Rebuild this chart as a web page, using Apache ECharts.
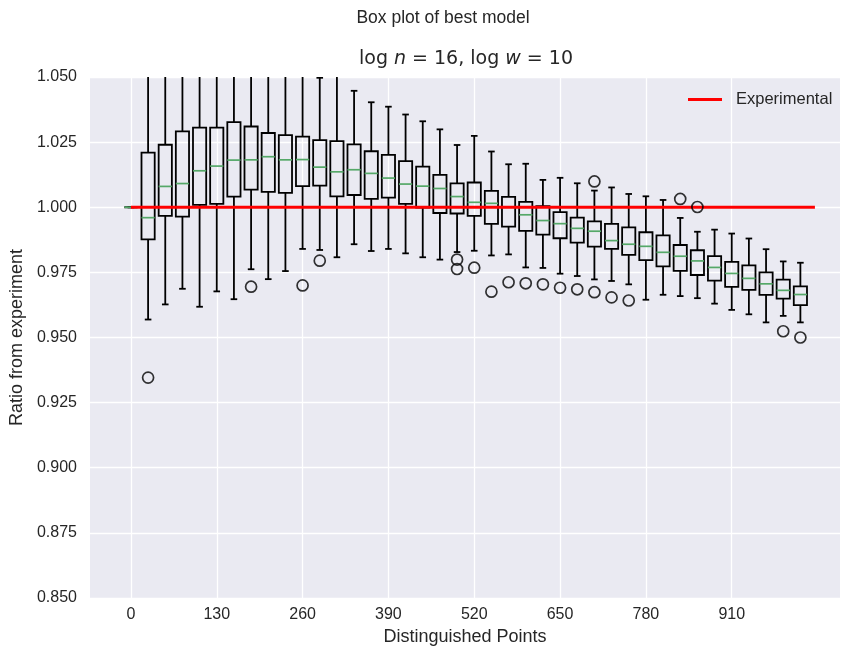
<!DOCTYPE html>
<html><head><meta charset="utf-8">
<script src="https://cdn.jsdelivr.net/npm/echarts@6/dist/echarts.min.js"></script>
<style>html,body{margin:0;padding:0;background:#fff}#c{width:842px;height:651px}</style>
</head><body><div id="c"></div>
<script>
// ---- data ----
const positions = [0,26,52,78,104,130,156,182,208,234,260,286,312,338,364,390,416,442,468,494,520,546,572,598,624,650,676,702,728,754,780,806,832,858,884,910,936,962,988,1014];
const whiskerLow = [1.000,0.9569,0.9627,0.9687,0.9618,0.9677,0.9647,0.9762,0.9724,0.9755,0.9840,0.9836,0.9808,0.9858,0.9832,0.9840,0.9823,0.9808,0.9799,0.9828,0.9833,0.9815,0.9819,0.9769,0.9767,0.9745,0.9736,0.9723,0.9717,0.9704,0.9645,0.9664,0.9659,0.9651,0.9630,0.9606,0.9589,0.9558,0.9583,0.9558];
const q1 = [1.000,0.9877,0.9967,0.9964,1.0009,1.0013,1.0041,1.0068,1.0059,1.0055,1.0081,1.0083,1.0042,1.0047,1.0032,1.0037,1.0013,0.9999,0.9978,0.9976,0.9967,0.9936,0.9926,0.9909,0.9895,0.9881,0.9864,0.9849,0.9840,0.9817,0.9797,0.9773,0.9756,0.9740,0.9718,0.9694,0.9683,0.9664,0.9649,0.9624];
const median = [1.000,0.9960,1.0080,1.0091,1.0140,1.0158,1.0181,1.0182,1.0194,1.0182,1.0183,1.0154,1.0136,1.0144,1.0130,1.0112,1.0089,1.0081,1.0072,1.0041,1.0019,1.0015,1.0000,0.9971,0.9949,0.9937,0.9919,0.9908,0.9872,0.9858,0.9850,0.9827,0.9812,0.9794,0.9769,0.9746,0.9727,0.9706,0.9681,0.9665];
const q3 = [1.000,1.0210,1.0240,1.0291,1.0306,1.0306,1.0327,1.0310,1.0285,1.0277,1.0271,1.0258,1.0254,1.0241,1.0215,1.0201,1.0177,1.0156,1.0124,1.0092,1.0095,1.0063,1.0040,1.0021,1.0004,0.9981,0.9960,0.9946,0.9936,0.9923,0.9904,0.9892,0.9855,0.9835,0.9812,0.9790,0.9777,0.9750,0.9722,0.9696];
const whiskerHigh = [1.000,1.066,1.062,1.063,1.068,1.065,1.070,1.064,1.058,1.060,1.056,1.0497,1.053,1.0447,1.0403,1.0386,1.0356,1.0330,1.0299,1.0239,1.0274,1.0214,1.0165,1.0167,1.0105,1.0113,1.0092,1.0064,1.0076,1.0051,1.0042,1.0028,0.9959,0.9906,0.9914,0.9899,0.9880,0.9839,0.9792,0.9787];
const outlierPos = [26,182,260,286,494,494,520,546,572,598,624,650,676,702,702,728,754,832,858,988,1014];
const outlierVal = [0.9346,0.9695,0.9700,0.9795,0.9799,0.9763,0.9768,0.9676,0.9712,0.9708,0.9704,0.9691,0.9685,1.0099,0.9674,0.9654,0.9642,1.0032,1.0001,0.9524,0.9500];
const experimentalX = [0, 1036];
const experimentalY = [1.0, 1.0];
const xTickValues = [0,130,260,390,520,650,780,910];

const BOX_W = 20, CAP_W = 10;
const boxData = positions.map((p,i)=>[p, whiskerLow[i], q1[i], median[i], q3[i], whiskerHigh[i]]);
const fliers = outlierPos.map((p,i)=>[p, outlierVal[i]]);
const expLine = experimentalX.map((x,i)=>[x, experimentalY[i]]);

const TXT = '#262626';
const FONT = '"Liberation Sans", Arial, sans-serif';

const chart = echarts.init(document.getElementById('c'), null, {renderer:'canvas'});
chart.setOption({
  animation: false,
  backgroundColor: '#ffffff',
  title: [
    {text: 'Box plot of best model', left: 443, top: 9, textAlign: 'center', padding: 0,
     textStyle: {fontFamily: FONT, fontSize: 17.5, fontWeight: 'normal', color: TXT}},
    {text: '{a|log }{i|n}{a| = 16, log }{i|w}{a| = 10}', left: 466, top: 50, textAlign: 'center', padding: 0,
     textStyle: {fontWeight: 'normal', rich: {
       a: {fontFamily: '"DejaVu Sans"', fontSize: 19, fontWeight: 'normal', color: TXT},
       i: {fontFamily: '"DejaVu Sans"', fontSize: 19, fontWeight: 'normal', fontStyle: 'italic', color: TXT}
     }}}
  ],
  legend: {
    data: ['Experimental'], left: 688, top: 91, padding: 0, icon: 'rect', itemWidth: 34, itemHeight: 3,
    textStyle: {fontFamily: FONT, fontSize: 16.5, color: TXT, padding: [0,0,0,9]}
  },
  grid: {left: 90, right: 2, top: 77, bottom: 53, show: true, backgroundColor: '#EAEAF2', borderWidth: 0},
  xAxis: {
    type: 'value', min: -62, max: 1074,
    name: 'Distinguished Points', nameLocation: 'middle', nameGap: 28,
    nameTextStyle: {fontFamily: FONT, fontSize: 18, color: TXT},
    axisLine: {show: false},
    axisTick: {show: false, customValues: xTickValues},
    axisLabel: {customValues: xTickValues, fontFamily: FONT, fontSize: 16, color: TXT, margin: 9},
    splitLine: {show: true, lineStyle: {color: '#ffffff', width: 1.3}}
  },
  yAxis: {
    type: 'value', min: 0.85, max: 1.05, interval: 0.025,
    name: 'Ratio from experiment', nameLocation: 'middle', nameGap: 61,
    nameTextStyle: {fontFamily: FONT, fontSize: 18, color: TXT},
    axisLine: {show: false}, axisTick: {show: false},
    axisLabel: {formatter: v => v.toFixed(3), fontFamily: FONT, fontSize: 16, color: TXT, margin: 13},
    splitLine: {show: true, lineStyle: {color: '#ffffff', width: 1.3}}
  },
  series: [
    {
      type: 'custom', name: 'boxes', clip: true, z: 2,
      data: boxData,
      renderItem: function(params, api) {
        const x = api.value(0);
        const lo = api.coord([x, api.value(1)]);
        const b1 = api.coord([x, api.value(2)]);
        const md = api.coord([x, api.value(3)]);
        const b3 = api.coord([x, api.value(4)]);
        const hi = api.coord([x, api.value(5)]);
        const hw = api.size([BOX_W, 0])[0] / 2;
        const cw = api.size([CAP_W, 0])[0] / 2;
        const cx = lo[0];
        const ls = {stroke: '#000', lineWidth: 1.8, fill: null};
        return {
          type: 'group',
          children: [
            {type: 'line', shape: {x1: cx, y1: lo[1], x2: cx, y2: b1[1]}, style: ls},
            {type: 'line', shape: {x1: cx, y1: b3[1], x2: cx, y2: hi[1]}, style: ls},
            {type: 'line', shape: {x1: cx - cw, y1: lo[1], x2: cx + cw, y2: lo[1]}, style: ls},
            {type: 'line', shape: {x1: cx - cw, y1: hi[1], x2: cx + cw, y2: hi[1]}, style: ls},
            {type: 'rect', shape: {x: cx - hw, y: b3[1], width: 2*hw, height: b1[1]-b3[1]}, style: ls},
            {type: 'line', shape: {x1: cx - hw, y1: md[1], x2: cx + hw, y2: md[1]}, style: {stroke: '#55A868', lineWidth: 1.7}}
          ]
        };
      }
    },
    {
      type: 'line', name: 'Experimental', data: expLine, z: 3,
      symbol: 'none', showSymbol: false,
      lineStyle: {color: '#ff0000', width: 3}, itemStyle: {color: '#ff0000'}
    },
    {
      type: 'scatter', name: 'outliers', data: fliers, z: 4,
      symbol: 'circle', symbolSize: 11,
      itemStyle: {color: 'rgba(0,0,0,0)', borderColor: '#000', borderWidth: 1.7}
    }
  ]
});
</script>
</body></html>
